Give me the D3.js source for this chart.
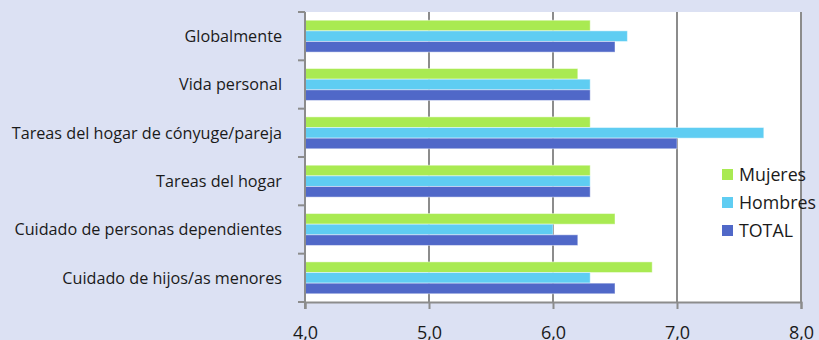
<!DOCTYPE html>
<html>
<head>
<meta charset="utf-8">
<script src="https://cdn.jsdelivr.net/npm/d3@7"></script>
<style>
  body { margin: 0; background: #dce1f3; }
  svg { display: block; }
  .axis text { font-family: "Open Sans", sans-serif; fill: #1a1a1a; }
</style>
</head>
<body>
<div id="chart"></div>
<script>
var categories = [
  "Globalmente",
  "Vida personal",
  "Tareas del hogar de cónyuge/pareja",
  "Tareas del hogar",
  "Cuidado de personas dependientes",
  "Cuidado de hijos/as menores"
];
var seriesNames = ["Mujeres", "Hombres", "TOTAL"];
var mujeres = [6.3, 6.2, 6.3, 6.3, 6.5, 6.8];
var hombres = [6.6, 6.3, 7.7, 6.3, 6.0, 6.3];
var total = [6.5, 6.3, 7.0, 6.3, 6.2, 6.5];
var xTicks = [4, 5, 6, 7, 8];
var colors = ["#a9ea52", "#5fcdf2", "#5068c8"];

var width = 819,
    height = 340,
    plotLeft = 305,
    plotRight = 801,
    plotTop = 12,
    plotBottom = 302;

var seriesValues = [mujeres, hombres, total];
var data = categories.map(function (c, i) {
  return {
    cat: c,
    values: seriesNames.map(function (s, j) { return { name: s, value: seriesValues[j][i], color: colors[j] }; })
  };
});

var svg = d3.select("#chart").append("svg")
  .attr("width", width)
  .attr("height", height);

svg.append("rect")
  .attr("width", width)
  .attr("height", height)
  .attr("fill", "#dce1f3");

var xScale = d3.scaleLinear().domain([4, 8]).range([plotLeft, plotRight]);
var yScale = d3.scaleBand().domain(categories).range([plotTop, plotBottom]).paddingInner(0.34).paddingOuter(0.17);
var ySub = d3.scaleBand().domain(seriesNames).range([0, yScale.bandwidth()]);

svg.append("rect")
  .attr("x", plotLeft)
  .attr("y", plotTop)
  .attr("width", plotRight - plotLeft)
  .attr("height", plotBottom - plotTop)
  .attr("fill", "#ffffff");

// vertical grid lines
svg.append("g")
  .selectAll("line")
  .data(xTicks.slice(1))
  .enter()
  .append("line")
  .attr("x1", function (d) { return xScale(d); })
  .attr("x2", function (d) { return xScale(d); })
  .attr("y1", plotTop)
  .attr("y2", plotBottom)
  .attr("stroke", "#8c8c8c")
  .attr("stroke-width", 2);

// bars
var groups = svg.append("g")
  .selectAll("g")
  .data(data)
  .enter()
  .append("g")
  .attr("transform", function (d) { return "translate(0," + yScale(d.cat) + ")"; });

groups.selectAll("rect")
  .data(function (d) { return d.values; })
  .enter()
  .append("rect")
  .attr("x", xScale(4))
  .attr("y", function (d) { return ySub(d.name); })
  .attr("width", function (d) { return xScale(d.value) - xScale(4); })
  .attr("height", ySub.bandwidth())
  .attr("fill", function (d) { return d.color; })
  .attr("stroke", "rgba(255,255,255,0.45)")
  .attr("stroke-width", 1);

// left axis with ticks at band boundaries
var bandEdges = d3.range(categories.length + 1).map(function (i) {
  return plotTop + i * (plotBottom - plotTop) / categories.length;
});
var yAxisG = svg.append("g").attr("class", "axis");
yAxisG.append("line")
  .attr("x1", plotLeft).attr("x2", plotLeft)
  .attr("y1", plotTop).attr("y2", plotBottom + 7)
  .attr("stroke", "#8c8c8c").attr("stroke-width", 2);
yAxisG.selectAll("line.tick")
  .data(bandEdges)
  .enter()
  .append("line")
  .attr("class", "tick")
  .attr("x1", plotLeft - 7).attr("x2", plotLeft)
  .attr("y1", function (d) { return d; })
  .attr("y2", function (d) { return d; })
  .attr("stroke", "#8c8c8c").attr("stroke-width", 2);
yAxisG.selectAll("text")
  .data(categories)
  .enter()
  .append("text")
  .attr("x", plotLeft - 23)
  .attr("y", function (d) { return yScale(d) + yScale.bandwidth() / 2; })
  .attr("dy", "0.35em")
  .attr("text-anchor", "end")
  .style("font-size", "16.2px")
  .text(function (d) { return d; });

// bottom axis
var xAxis = d3.axisBottom(xScale)
  .tickValues(xTicks)
  .tickSize(7)
  .tickFormat(function (d) { return d3.format(".1f")(d).replace(".", ","); });

var xAxisG = svg.append("g")
  .attr("class", "axis")
  .attr("transform", "translate(0," + plotBottom + ")")
  .call(xAxis);
xAxisG.select(".domain").attr("stroke", "#8c8c8c").attr("stroke-width", 2);
xAxisG.selectAll(".tick line").attr("stroke", "#8c8c8c").attr("stroke-width", 2);
xAxisG.selectAll(".tick text")
  .attr("y", 37)
  .attr("dy", 0)
  .style("font-size", "18px");

// legend
var legend = svg.append("g")
  .attr("class", "axis")
  .attr("transform", "translate(722,169)");
var items = legend.selectAll("g")
  .data(seriesNames)
  .enter()
  .append("g")
  .attr("transform", function (d, i) { return "translate(0," + i * 28 + ")"; });
items.append("rect")
  .attr("width", 11)
  .attr("height", 11)
  .attr("fill", function (d, i) { return colors[i]; });
items.append("text")
  .attr("x", 17)
  .attr("y", 6)
  .attr("dy", "0.35em")
  .style("font-size", "17.8px")
  .text(function (d) { return d; });
</script>
</body>
</html>
